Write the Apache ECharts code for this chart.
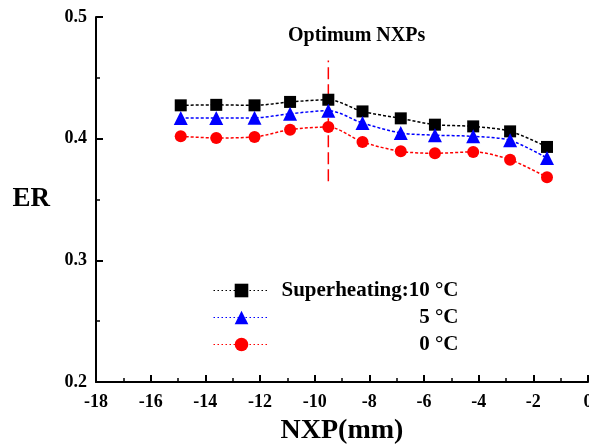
<!DOCTYPE html>
<html>
<head>
<meta charset="utf-8">
<script src="https://cdn.jsdelivr.net/npm/echarts@6/dist/echarts.min.js"></script>
<style>
  html, body { margin: 0; padding: 0; background: #fff; }
  #chart { width: 589px; height: 445px; }
</style>
</head>
<body>
<div id="chart"></div>
<script>
// Nozzle exit position (mm) for each measurement
const nxp = [-14.9, -13.6, -12.2, -10.9, -9.5, -8.25, -6.85, -5.6, -4.2, -2.85, -1.5];

// Entrainment ratio at each superheating degree
const er10 = [0.4274, 0.4278, 0.4274, 0.4302, 0.4320, 0.4224, 0.4167, 0.4115, 0.4101, 0.4060, 0.3932];
const er5  = [0.4170, 0.4170, 0.4171, 0.4205, 0.4230, 0.4129, 0.4047, 0.4029, 0.4019, 0.3986, 0.3841];
const er0  = [0.4019, 0.4006, 0.4014, 0.4074, 0.4096, 0.3973, 0.3896, 0.3880, 0.3891, 0.3827, 0.3682];

const seriesNames = ['Superheating:10 °C', '5 °C', '0 °C'];

// Optimum nozzle position marker
const optimumX = -9.5;
const optimumSpan = [0.3649, 0.4643];

const xTicks = [-18, -16, -14, -12, -10, -8, -6, -4, -2, 0];
const yTicks = [0.2, 0.3, 0.4, 0.5];

const FONT = "'Liberation Serif', 'Times New Roman', serif";

function pairs(xs, ys) { return xs.map((x, i) => [x, ys[i]]); }

const chart = echarts.init(document.getElementById('chart'));

function lineSeries(name, data, color, symbol, size) {
  return {
    name: name,
    type: 'line',
    data: pairs(nxp, data),
    smooth: 0.3,
    symbol: symbol,
    symbolSize: size,
    itemStyle: { color: color },
    lineStyle: { color: color, width: 1.5, type: [3, 2] },
    z: 3
  };
}

chart.setOption({
  animation: false,
  grid: { left: 96, top: 17, right: 1, bottom: 63, outerBoundsMode: 'none', containLabel: false },
  xAxis: {
    type: 'value',
    min: xTicks[0], max: xTicks[xTicks.length - 1], interval: 2,
    name: 'NXP(mm)',
    nameLocation: 'middle',
    nameGap: 35,
    nameTextStyle: { fontFamily: FONT, fontWeight: 'bold', fontSize: 28, color: '#000' },
    axisLine: { lineStyle: { color: '#000', width: 2 } },
    axisTick: { inside: true, length: 7, lineStyle: { color: '#000', width: 2 } },
    minorTick: { show: true, splitNumber: 2, length: 4, lineStyle: { color: '#000', width: 1.5 } },
    axisLabel: { fontFamily: FONT, fontWeight: 'bold', fontSize: 18, color: '#000', margin: 11 },
    splitLine: { show: false }
  },
  yAxis: {
    type: 'value',
    position: 'left',
    min: yTicks[0], max: yTicks[yTicks.length - 1], interval: 0.1,
    name: 'ER',
    nameLocation: 'middle',
    nameRotate: 0,
    nameGap: 46,
    nameTextStyle: { fontFamily: FONT, fontWeight: 'bold', fontSize: 27, color: '#000' },
    axisLine: { show: true, onZero: false, lineStyle: { color: '#000', width: 2 } },
    axisTick: { inside: true, length: 7, lineStyle: { color: '#000', width: 2 } },
    minorTick: { show: true, splitNumber: 2, length: 4, lineStyle: { color: '#000', width: 1.5 } },
    axisLabel: { fontFamily: FONT, fontWeight: 'bold', fontSize: 18, color: '#000', margin: 9,
                 formatter: v => v.toFixed(1) },
    splitLine: { show: false }
  },
  legend: {
    data: seriesNames,
    orient: 'vertical',
    left: 213,
    top: 280,
    padding: 0,
    itemWidth: 56,
    itemHeight: 17,
    itemGap: 6,
    lineStyle: { type: [1.5, 2.5], width: 1 },
    selectedMode: false,
    formatter: name => '{t|' + name + '}',
    textStyle: {
      rich: {
        t: { fontFamily: FONT, fontWeight: 'bold', fontSize: 21, lineHeight: 16, color: '#000', width: 184, align: 'right' }
      }
    }
  },
  graphic: [{
    type: 'text',
    left: 288,
    top: 26,
    style: { text: 'Optimum NXPs', fontFamily: FONT, fontWeight: 'bold', fontSize: 20, fill: '#000' }
  }],
  series: [
    lineSeries(seriesNames[0], er10, '#000000', 'rect', 12),
    lineSeries(seriesNames[1], er5, '#0000ff', 'triangle', 14),
    lineSeries(seriesNames[2], er0, '#ff0000', 'circle', 12),
    {
      name: 'optimum',
      type: 'line',
      data: optimumSpan.map(v => [optimumX, v]),
      symbol: 'none',
      lineStyle: { color: '#ff0000', width: 1.5, type: [12, 5] },
      z: 2
    }
  ]
});
</script>
</body>
</html>
